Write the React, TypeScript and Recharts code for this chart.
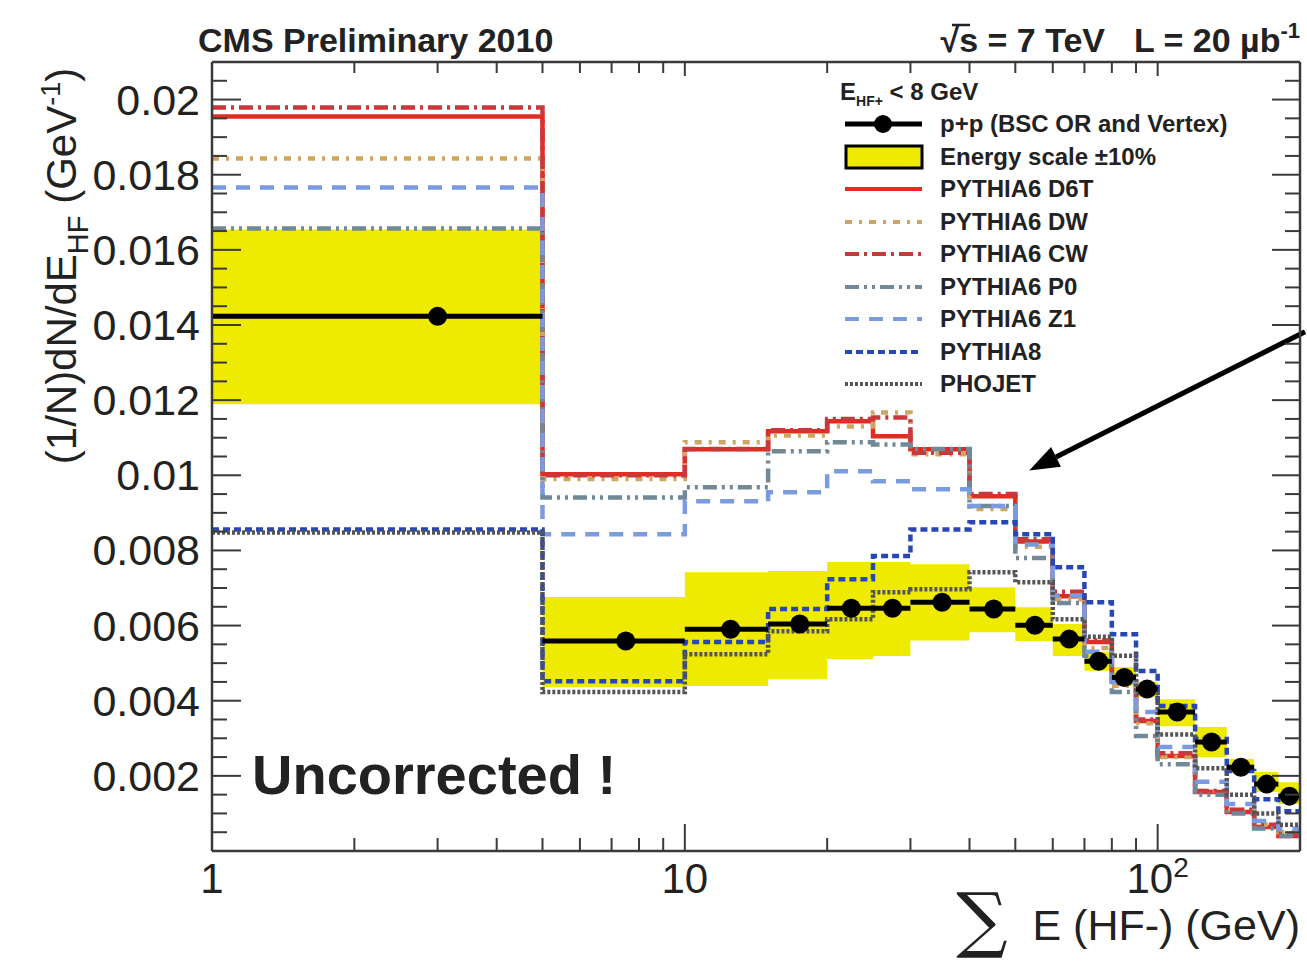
import React from 'react';
import {
  ComposedChart,
  Area,
  Line,
  Scatter,
  ErrorBar,
  XAxis,
  YAxis,
  Legend,
  ReferenceLine,
} from 'recharts';

// bin edges of the sum E (HF-) histogram, GeV
const binEdges = [1, 5, 10, 15, 20, 25, 30, 40, 50, 60, 70, 80, 90, 100, 120, 140, 160, 180, 200];

// p+p data, one value per bin
const dataValues = [0.01423, 0.00559, 0.0059, 0.00604, 0.00646, 0.00646, 0.00662, 0.00644, 0.00601, 0.00564, 0.00505, 0.00462, 0.00431, 0.0037, 0.0029, 0.00223, 0.00178, 0.00146];
// energy scale +-10% band
const bandLow = [0.01189, 0.00436, 0.00439, 0.00457, 0.00511, 0.00519, 0.0056, 0.00582, 0.00559, 0.00519, 0.0048, 0.0044, 0.0041, 0.00332, 0.0025, 0.0021, 0.00157, 0.00125];
const bandHigh = [0.01654, 0.00676, 0.00742, 0.00745, 0.00769, 0.00769, 0.00763, 0.00702, 0.00649, 0.00604, 0.0053, 0.0049, 0.0045, 0.00404, 0.0033, 0.00245, 0.0021, 0.00183];

// generator predictions
const d6t = [0.01955, 0.01003, 0.01069, 0.01117, 0.01144, 0.01104, 0.01069, 0.00944, 0.00824, 0.00678, 0.00556, 0.00452, 0.00346, 0.00253, 0.00157, 0.00104, 0.00064, 0.0004];
const dw = [0.01843, 0.0099, 0.01088, 0.01106, 0.0113, 0.01167, 0.01056, 0.0091, 0.0081, 0.0067, 0.0054, 0.0044, 0.0034, 0.0025, 0.0016, 0.0011, 0.0007, 0.0005];
const cw = [0.01979, 0.01, 0.0107, 0.0112, 0.0115, 0.01154, 0.0106, 0.0095, 0.0083, 0.0069, 0.0056, 0.0045, 0.0035, 0.0026, 0.0016, 0.0011, 0.0007, 0.00045];
const p0 = [0.01657, 0.00941, 0.00968, 0.01064, 0.01088, 0.01082, 0.0107, 0.00918, 0.0078, 0.0066, 0.0052, 0.00423, 0.00306, 0.00231, 0.0015, 0.001, 0.0006, 0.0004];
const z1 = [0.01766, 0.00843, 0.00931, 0.00955, 0.01011, 0.00984, 0.00963, 0.00918, 0.00816, 0.0068, 0.0053, 0.0045, 0.0037, 0.00277, 0.00184, 0.00125, 0.0008, 0.00059];
const pythia8 = [0.00856, 0.00452, 0.00556, 0.00644, 0.00723, 0.00785, 0.00856, 0.00875, 0.00843, 0.00755, 0.00662, 0.00577, 0.00479, 0.00386, 0.00298, 0.00213, 0.00138, 0.00106];
const phojet = [0.00848, 0.00423, 0.00524, 0.00585, 0.00617, 0.00689, 0.00697, 0.00742, 0.00715, 0.00617, 0.0057, 0.0052, 0.0042, 0.0031, 0.0022, 0.0015, 0.001, 0.0007];

// axis ticks
const xTicks = [1, 2, 3, 4, 5, 6, 7, 8, 9, 10, 20, 30, 40, 50, 60, 70, 80, 90, 100, 200];
const xMajor = [1, 10, 100];
const yMajorTicks = [0.002, 0.004, 0.006, 0.008, 0.01, 0.012, 0.014, 0.016, 0.018, 0.02];
const yMajorLabels = ['0.002', '0.004', '0.006', '0.008', '0.01', '0.012', '0.014', '0.016', '0.018', '0.02'];
const yTicks = Array.from({ length: 43 }, (_, k) => Math.round(k * 5) / 10000);

// arrow annotation, [E, value]
const arrowFrom = [205, 0.01382];
const arrowTo = [53.5, 0.01013];

const mcSeries = [
  { key: 'd6t', name: 'PYTHIA6 D6T', values: d6t, color: '#e42b1f', dash: undefined },
  { key: 'dw', name: 'PYTHIA6 DW', values: dw, color: '#cfa562', dash: '7 7 3 7' },
  { key: 'cw', name: 'PYTHIA6 CW', values: cw, color: '#c9393c', dash: '14 5 3 5' },
  { key: 'p0', name: 'PYTHIA6 P0', values: p0, color: '#708897', dash: '14 5 3 5 3 5' },
  { key: 'z1', name: 'PYTHIA6 Z1', values: z1, color: '#7b9be0', dash: '14 10' },
  { key: 'py8', name: 'PYTHIA8', values: pythia8, color: '#2747b5', dash: '7 4' },
  { key: 'phojet', name: 'PHOJET', values: phojet, color: '#555555', dash: '3 2' },
];

const histRows = binEdges.map((e, i) => {
  const k = Math.min(i, dataValues.length - 1);
  const row: any = { e, band: [bandLow[k], bandHigh[k]] };
  mcSeries.forEach((s) => {
    row[s.key] = s.values[k];
  });
  return row;
});

const dataPoints = dataValues.map((v, i) => ({
  e: (binEdges[i] + binEdges[i + 1]) / 2,
  v,
  xerr: (binEdges[i + 1] - binEdges[i]) / 2,
}));

const FONT = '"Liberation Sans", Arial, Helvetica, sans-serif';
const INK = '#222';
const FRAME = { stroke: '#3a3a3a', strokeWidth: 2.5 };
const YELLOW = '#eeea00';

const isYMajor = (v: number) => yMajorTicks.findIndex((m) => Math.abs(m - v) < 1e-9);

const BottomTick = (props: any) => {
  const { x, y, payload } = props;
  const major = xMajor.includes(payload.value);
  return (
    <g>
      <line x1={x} x2={x} y1={y} y2={y - (major ? 27 : 13)} stroke="#3a3a3a" strokeWidth={2} />
      {major && (
        <text x={x} y={y + 42} textAnchor="middle" fontSize={42} fontFamily={FONT} fill={INK}>
          {payload.value === 100 ? (
            <>
              10<tspan dy={-16} fontSize={28}>2</tspan>
            </>
          ) : (
            String(payload.value)
          )}
        </text>
      )}
    </g>
  );
};

const TopTick = (props: any) => {
  const { x, y, payload } = props;
  const major = xMajor.includes(payload.value);
  return <line x1={x} x2={x} y1={y} y2={y + (major ? 14 : 11)} stroke="#3a3a3a" strokeWidth={2} />;
};

const LeftTick = (props: any) => {
  const { x, y, payload } = props;
  const idx = isYMajor(payload.value);
  return (
    <g>
      <line x1={x} x2={x + (idx >= 0 ? 29 : 15)} y1={y} y2={y} stroke="#3a3a3a" strokeWidth={2} />
      {idx >= 0 && (
        <text x={x - 12} y={y + 15} textAnchor="end" fontSize={43} fontFamily={FONT} fill={INK}>
          {yMajorLabels[idx]}
        </text>
      )}
    </g>
  );
};

const RightTick = (props: any) => {
  const { x, y, payload } = props;
  const idx = isYMajor(payload.value);
  return <line x1={x} x2={x - (idx >= 0 ? 28 : 15)} y1={y} y2={y} stroke="#3a3a3a" strokeWidth={2} />;
};

const DataDot = (props: any) => <circle cx={props.cx} cy={props.cy} r={9.5} fill="#000" />;

const ArrowShape = (props: any) => {
  const { x1, y1, x2, y2 } = props;
  const dx = x2 - x1;
  const dy = y2 - y1;
  const len = Math.sqrt(dx * dx + dy * dy);
  const ux = dx / len;
  const uy = dy / len;
  const hl = 30;
  const hw = 11;
  const bx = x2 - ux * hl;
  const by = y2 - uy * hl;
  return (
    <g>
      <line x1={x1} y1={y1} x2={bx} y2={by} stroke="#000" strokeWidth={5} />
      <polygon
        points={`${x2},${y2} ${bx - uy * hw},${by + ux * hw} ${bx + uy * hw},${by - ux * hw}`}
        fill="#000"
      />
    </g>
  );
};

const legendText: React.CSSProperties = {
  fontFamily: FONT,
  fontWeight: 'bold',
  fontSize: 24,
  color: INK,
  whiteSpace: 'nowrap',
};

const LegendRow = ({ symbol, label }: { symbol: React.ReactNode; label: string }) => (
  <div style={{ display: 'flex', alignItems: 'center', height: 32.5 }}>
    <svg width={100} height={30} style={{ flex: 'none' }}>
      {symbol}
    </svg>
    <span style={legendText}>{label}</span>
  </div>
);

const HistLegend = () => (
  <div style={{ width: 440 }}>
    <div style={{ ...legendText, height: 32, lineHeight: '32px' }}>
      E<sub style={{ fontSize: 14 }}>HF+</sub> &lt; 8 GeV
    </div>
    <LegendRow
      label="p+p (BSC OR and Vertex)"
      symbol={
        <>
          <line x1={5} x2={82} y1={15} y2={15} stroke="#000" strokeWidth={5} />
          <circle cx={43} cy={15} r={9} fill="#000" />
        </>
      }
    />
    <LegendRow
      label="Energy scale ±10%"
      symbol={<rect x={6} y={4} width={76} height={22} fill={YELLOW} stroke="#000" strokeWidth={3} />}
    />
    {mcSeries.map((s) => (
      <LegendRow
        key={s.key}
        label={s.name}
        symbol={<line x1={5} x2={82} y1={15} y2={15} stroke={s.color} strokeWidth={4} strokeDasharray={s.dash} />}
      />
    ))}
  </div>
);

export default function App() {
  return (
    <div style={{ position: 'absolute', left: 0, top: 0, width: 1307, height: 964, background: '#fff' }}>
      <ComposedChart
        width={1307}
        height={964}
        data={histRows}
        margin={{ top: 61, right: 6, bottom: 112, left: 211 }}
      >
        <XAxis
          xAxisId="b"
          dataKey="e"
          type="number"
          scale="log"
          domain={[1, 200]}
          allowDataOverflow
          ticks={xTicks}
          interval={0}
          height={1}
          tickSize={0}
          tickMargin={0}
          tickLine={false}
          axisLine={FRAME}
          tick={(p: any) => <BottomTick {...p} />}
        />
        <XAxis
          xAxisId="t"
          orientation="top"
          dataKey="e"
          type="number"
          scale="log"
          domain={[1, 200]}
          allowDataOverflow
          ticks={xTicks}
          interval={0}
          height={1}
          tickSize={0}
          tickMargin={0}
          tickLine={false}
          axisLine={FRAME}
          tick={(p: any) => <TopTick {...p} />}
        />
        <YAxis
          yAxisId="l"
          type="number"
          domain={[0, 0.021]}
          allowDataOverflow
          ticks={yTicks}
          interval={0}
          width={1}
          tickSize={0}
          tickMargin={0}
          tickLine={false}
          axisLine={FRAME}
          tick={(p: any) => <LeftTick {...p} />}
        />
        <YAxis
          yAxisId="r"
          orientation="right"
          type="number"
          domain={[0, 0.021]}
          allowDataOverflow
          ticks={yTicks}
          interval={0}
          width={1}
          tickSize={0}
          tickMargin={0}
          tickLine={false}
          axisLine={FRAME}
          tick={(p: any) => <RightTick {...p} />}
        />
        <Area
          xAxisId="b"
          yAxisId="l"
          type="stepAfter"
          dataKey="band"
          fill={YELLOW}
          fillOpacity={1}
          stroke="none"
          isAnimationActive={false}
        />
        {mcSeries.map((s) => (
          <Line
            key={s.key}
            xAxisId="b"
            yAxisId="l"
            type="stepAfter"
            dataKey={s.key}
            name={s.name}
            stroke={s.color}
            strokeWidth={4.5}
            strokeDasharray={s.dash}
            dot={false}
            activeDot={false}
            isAnimationActive={false}
          />
        ))}
        <Scatter
          xAxisId="b"
          yAxisId="l"
          data={dataPoints}
          dataKey="v"
          shape={DataDot}
          isAnimationActive={false}
        >
          <ErrorBar dataKey="xerr" direction="x" width={0} stroke="#000" strokeWidth={5} isAnimationActive={false} />
        </Scatter>
        <ReferenceLine
          xAxisId="b"
          yAxisId="l"
          segment={[
            { x: arrowFrom[0], y: arrowFrom[1] },
            { x: arrowTo[0], y: arrowTo[1] },
          ]}
          ifOverflow="visible"
          shape={ArrowShape}
        />
        <Legend
          layout="vertical"
          align="center"
          verticalAlign="middle"
          content={() => <HistLegend />}
          wrapperStyle={{ left: 840, top: 76, width: 440 }}
        />
      </ComposedChart>
      <svg
        width={1307}
        height={964}
        style={{ position: 'absolute', left: 0, top: 0, pointerEvents: 'none' }}
        fontFamily={FONT}
        fill={INK}
      >
        <text x={198} y={52} fontSize={34} fontWeight="bold">
          CMS Preliminary 2010
        </text>
        <text x={1105} y={52} fontSize={34} fontWeight="bold" textAnchor="end">
          √s = 7 TeV
        </text>
        <line x1={952} x2={970} y1={25} y2={25} stroke={INK} strokeWidth={2.5} />
        <text x={1300} y={52} fontSize={34} fontWeight="bold" textAnchor="end">
          L = 20 µb<tspan dy={-14} fontSize={22}>-1</tspan>
        </text>
        <text x={252} y={794} fontSize={56} fontWeight="bold">
          Uncorrected !
        </text>
        <text transform="translate(76,266) rotate(-90)" textAnchor="middle" fontSize={42}>
          (1/N)dN/dE<tspan dy={12} fontSize={29}>HF</tspan>
          <tspan dy={-12}> (GeV</tspan>
          <tspan dy={-16} fontSize={27}>-1</tspan>
          <tspan dy={16}>)</tspan>
        </text>
        <text x={1300} y={940} fontSize={43} textAnchor="end">
          E (HF-) (GeV)
        </text>
        <text x={982} y={944} fontSize={72} textAnchor="middle" fontFamily='"DejaVu Serif", serif'>
          ∑
        </text>
      </svg>
    </div>
  );
}
